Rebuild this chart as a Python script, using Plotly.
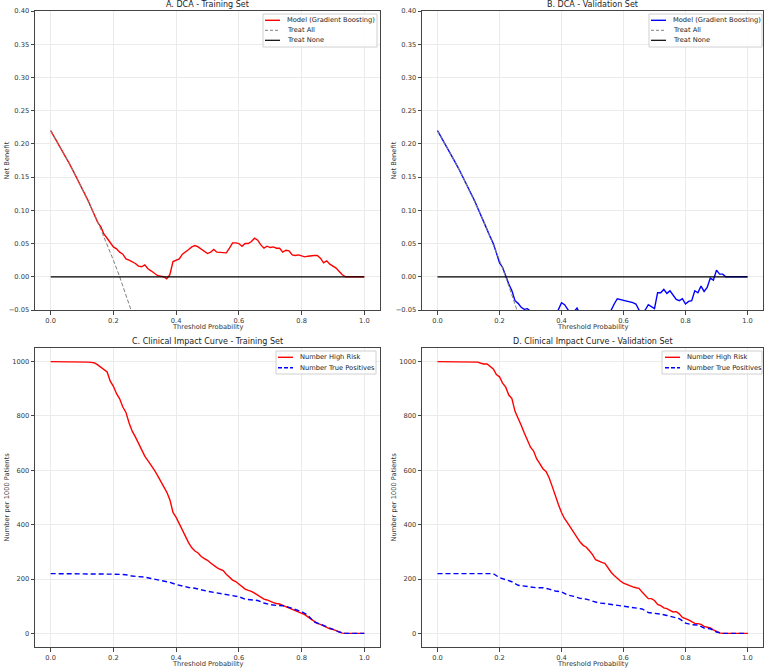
import numpy as np
import plotly.graph_objects as go

# ---------------- data ----------------
thr = np.round(np.linspace(0, 1, 101), 2)        # 0.00 .. 1.00 step 0.01
thr2 = np.round(np.linspace(0, 1, 51), 2)        # 0.00 .. 1.00 step 0.02
thr_all = np.round(np.linspace(0, 0.30, 16), 2)  # treat-all shown region

treat_all_nb = [0.220, 0.204, 0.188, 0.170, 0.152, 0.133, 0.114, 0.093,
                0.071, 0.049, 0.025, 0.000, -0.026, -0.054, -0.083, -0.114]

train_model_nb = [
    0.220, 0.212, 0.204, 0.196, 0.188, 0.179, 0.170, 0.161, 0.152, 0.143,
    0.133, 0.124, 0.114, 0.103, 0.093, 0.082, 0.075,
    0.064, 0.058, 0.051, 0.045, 0.042, 0.037, 0.034, 0.027, 0.025, 0.023,
    0.020, 0.016, 0.015, 0.018, 0.012, 0.009, 0.005, 0.002, 0.001, 0.000,
    -0.003, 0.003, 0.023, 0.025, 0.027, 0.034, 0.037, 0.041, 0.045, 0.047,
    0.045, 0.042, 0.039, 0.035, 0.037, 0.041, 0.037, 0.037, 0.036, 0.036,
    0.043, 0.051, 0.051, 0.050, 0.046, 0.050, 0.050, 0.053, 0.058, 0.055,
    0.048, 0.043, 0.046, 0.044, 0.045, 0.043, 0.043, 0.037, 0.040, 0.039,
    0.033, 0.032, 0.033, 0.031, 0.030, 0.031, 0.032, 0.032, 0.032, 0.028,
    0.021, 0.024, 0.019, 0.016, 0.013, 0.008, 0.003, 0.000,
    0.000, 0.000, 0.000, 0.000, 0.000, 0.000]

val_model_nb = [
    0.220, 0.212, 0.204, 0.196, 0.188, 0.179, 0.170, 0.161, 0.152, 0.143,
    0.133, 0.124, 0.114, 0.103, 0.093, 0.082, 0.071,
    0.060, 0.050, 0.036, 0.021, 0.014, 0.000, -0.011, -0.021, -0.036, -0.040,
    -0.046, -0.049, -0.048, -0.052, -0.060, -0.065, -0.068, -0.070, -0.072,
    -0.070, -0.066, -0.060, -0.050, -0.039, -0.042, -0.048, -0.056, -0.053,
    -0.047, -0.056, -0.062, -0.068, -0.072, -0.075, -0.076, -0.074, -0.070,
    -0.066, -0.060, -0.050, -0.041, -0.033, -0.034, -0.035, -0.036, -0.037,
    -0.039, -0.041, -0.050, -0.056, -0.050, -0.042, -0.045, -0.048, -0.024,
    -0.024, -0.019, -0.025, -0.021, -0.028, -0.034, -0.036, -0.033, -0.041,
    -0.037, -0.036, -0.021, -0.024, -0.014, -0.022, -0.016, -0.002, -0.005,
    0.010, 0.004, 0.004, 0.000,
    0.000, 0.000, 0.000, 0.000, 0.000, 0.000, 0.000]

train_high_risk = [
    1000, 1000, 1000, 1000, 1000, 1000, 1000, 1000, 1000, 1000, 1000, 1000,
    998, 997, 995, 988, 980, 972, 962, 928, 909, 882, 863, 833, 813, 774,
    744, 723, 701, 676, 652, 636, 620, 602, 582, 563, 544, 520, 492, 445,
    427, 404, 375, 355, 333, 315, 303, 296, 283, 275, 269, 259, 250, 242,
    236, 231, 218, 207, 196, 191, 182, 173, 163, 158, 155, 148, 141, 131,
    126, 123, 117, 113, 110, 108, 103, 98, 94, 87, 83, 80, 75, 69, 61, 53,
    43, 37, 33, 27, 22, 17, 15, 11, 5, 1,
    0, 0, 0, 0, 0, 0, 0]

train_true_pos = [
    220, 220, 220, 220, 220, 220, 220, 220, 220, 220,
    218, 217, 216, 211, 209, 207, 202, 198, 193, 188, 180, 174, 169, 166,
    160, 155, 151, 147, 145, 140, 135, 126, 124, 121, 112, 106, 103, 102,
    96, 88, 80, 67, 42, 34, 23, 15, 5,
    0, 0, 0, 0]

val_high_risk = [
    1000, 1000, 1000, 1000, 1000, 1000, 1000, 1000, 1000, 1000, 1000, 1000,
    1000,
    998, 994, 991, 991, 983, 973, 952, 944, 921, 906, 877, 864, 817, 793,
    766, 737, 710, 685, 671, 642, 625, 606, 596, 573, 541, 504, 474, 445,
    422, 406, 388, 369, 351, 336, 324, 317, 304, 290, 271, 265, 261, 258,
    241, 225, 213, 201, 193, 185, 180, 178, 171, 168, 166, 152, 139, 128,
    128, 121, 107, 102, 94, 91, 85, 79, 80, 72, 59, 55, 50, 43, 37, 36, 33,
    26, 22, 20, 13, 6, 2,
    0, 0, 0, 0, 0, 0, 0, 0, 0]

val_true_pos = [
    220, 220, 220, 220, 220, 220, 220, 220, 220, 220,
    205, 198, 190, 177, 173, 171, 168, 168, 163, 156, 153, 141, 136, 129,
    126, 120, 112, 110, 107, 103, 101, 97, 94, 90, 77, 75, 71, 66, 59, 54,
    38, 32, 31, 20, 17, 5,
    0, 0, 0, 0, 0]

treat_none_x = [0.0, 1.0]
treat_none_y = [0.0, 0.0]

x_ticks = [0.0, 0.2, 0.4, 0.6, 0.8, 1.0]
dca_y_ticks = [-0.05, 0.0, 0.05, 0.10, 0.15, 0.20, 0.25, 0.30, 0.35, 0.40]
cic_y_ticks = [0, 200, 400, 600, 800, 1000]

titles = ["A. DCA - Training Set", "B. DCA - Validation Set",
          "C. Clinical Impact Curve - Training Set",
          "D. Clinical Impact Curve - Validation Set"]

# ---------------- layout helpers ----------------
W, H = 767, 669
FONT = "DejaVu Sans"
SMALL = 6.7
def px(x):
    return x / W
def py(y):
    return 1 - y / H

# axes pixel boxes: (left, right, top, bottom)
boxes = [(35, 380, 11, 310), (422, 763, 11, 310),
         (35, 380, 348, 647), (422, 763, 348, 647)]

fig = go.Figure()
RED, BLUE = "#ff0000", "#0000ff"
LW = 1.4

# A
fig.add_trace(go.Scatter(x=thr, y=train_model_nb, mode="lines",
                         line=dict(color=RED, width=LW), xaxis="x", yaxis="y"))
fig.add_trace(go.Scatter(x=thr_all, y=treat_all_nb, mode="lines",
                         line=dict(color="#808080", width=1, dash="4px,2px"), xaxis="x", yaxis="y"))
fig.add_trace(go.Scatter(x=treat_none_x, y=treat_none_y, mode="lines",
                         line=dict(color="black", width=1.2), xaxis="x", yaxis="y"))
# B
fig.add_trace(go.Scatter(x=thr, y=val_model_nb, mode="lines",
                         line=dict(color=BLUE, width=LW), xaxis="x2", yaxis="y2"))
fig.add_trace(go.Scatter(x=thr_all, y=treat_all_nb, mode="lines",
                         line=dict(color="#808080", width=1, dash="4px,2px"), xaxis="x2", yaxis="y2"))
fig.add_trace(go.Scatter(x=treat_none_x, y=treat_none_y, mode="lines",
                         line=dict(color="black", width=1.2), xaxis="x2", yaxis="y2"))
# C
fig.add_trace(go.Scatter(x=thr, y=train_high_risk, mode="lines",
                         line=dict(color=RED, width=LW), xaxis="x3", yaxis="y3"))
fig.add_trace(go.Scatter(x=thr2, y=train_true_pos, mode="lines",
                         line=dict(color=BLUE, width=LW, dash="5px,3px"), xaxis="x3", yaxis="y3"))
# D
fig.add_trace(go.Scatter(x=thr, y=val_high_risk, mode="lines",
                         line=dict(color=RED, width=LW), xaxis="x4", yaxis="y4"))
fig.add_trace(go.Scatter(x=thr2, y=val_true_pos, mode="lines",
                         line=dict(color=BLUE, width=LW, dash="5px,3px"), xaxis="x4", yaxis="y4"))

axis_common = dict(showline=True, mirror=True, linecolor="#444444", linewidth=1,
                   ticks="outside", ticklen=3.5, tickwidth=1, tickcolor="#444444",
                   showgrid=True, gridcolor="#ebebeb", gridwidth=1, zeroline=False,
                   tickfont=dict(family=FONT, size=SMALL, color="#333333"),
                   automargin=False, fixedrange=True)

layout = dict(width=W, height=H, margin=dict(l=0, r=0, t=0, b=0),
              paper_bgcolor="white", plot_bgcolor="white", showlegend=False,
              font=dict(family=FONT, size=SMALL, color="#333333"))

for i, (l, r, t, b) in enumerate(boxes):
    sx = "" if i == 0 else str(i + 1)
    dca = i < 2
    layout["xaxis" + sx] = dict(axis_common, domain=[px(l), px(r)], range=[-0.05, 1.05],
                                tickvals=x_ticks, tickformat=".1f",
                                anchor="y" + sx)
    layout["yaxis" + sx] = dict(axis_common, domain=[py(b), py(t)],
                                range=[-0.05, 0.40] if dca else [-50, 1050],
                                tickvals=dca_y_ticks if dca else cic_y_ticks,
                                tickformat=".2f" if dca else "d",
                                anchor="x" + sx)
fig.update_layout(**layout)

annotations = []
shapes = []
for i, (l, r, t, b) in enumerate(boxes):
    cx = (l + r) / 2
    annotations.append(dict(text=titles[i], x=px(cx), y=py(t - 6.5), xref="paper", yref="paper",
                            xanchor="center", yanchor="middle", showarrow=False,
                            font=dict(family=FONT, size=8, color="#222222")))
    annotations.append(dict(text="Threshold Probability", x=px(cx), y=py(b + 17), xref="paper",
                            yref="paper", xanchor="center", yanchor="middle", showarrow=False,
                            font=dict(family=FONT, size=SMALL, color="#333333")))
    ytitle = "Net Benefit" if i < 2 else "Number per 1000 Patients"
    annotations.append(dict(text=ytitle, x=px(l - 29), y=py((t + b) / 2), xref="paper",
                            yref="paper", xanchor="center", yanchor="middle", showarrow=False,
                            textangle=-90, font=dict(family=FONT, size=SMALL, color="#333333")))

# manual legends (matplotlib-like compact boxes)
legends = [
    dict(box=(263, 377, 14, 47), sample=(265, 280), text_x=285, rows=[20.3, 30.3, 40.3],
         items=[("Model (Gradient Boosting)", RED, "solid", LW),
                ("Treat All", "#808080", "3px,2px", 1),
                ("Treat None", "black", "solid", 1.2)]),
    dict(box=(649, 762, 14, 47), sample=(651, 666), text_x=671, rows=[20.3, 30.3, 40.3],
         items=[("Model (Gradient Boosting)", BLUE, "solid", LW),
                ("Treat All", "#808080", "3px,2px", 1),
                ("Treat None", "black", "solid", 1.2)]),
    dict(box=(276, 376, 351, 374), sample=(278, 293), text_x=298, rows=[357.3, 367.7],
         items=[("Number High Risk", RED, "solid", LW),
                ("Number True Positives", BLUE, "4px,2px", LW)]),
    dict(box=(662, 762, 351, 374), sample=(665, 680), text_x=685, rows=[357.3, 367.7],
         items=[("Number High Risk", RED, "solid", LW),
                ("Number True Positives", BLUE, "4px,2px", LW)]),
]
for lg in legends:
    x0, x1, y0, y1 = lg["box"]
    shapes.append(dict(type="rect", xref="paper", yref="paper", x0=px(x0), x1=px(x1),
                       y0=py(y1), y1=py(y0), line=dict(color="#d0d0d0", width=1),
                       fillcolor="rgba(255,255,255,0.85)", layer="above"))
    for (label, color, dash, w), ry in zip(lg["items"], lg["rows"]):
        shapes.append(dict(type="line", xref="paper", yref="paper",
                           x0=px(lg["sample"][0]), x1=px(lg["sample"][1]), y0=py(ry), y1=py(ry),
                           line=dict(color=color, width=w, dash=dash), layer="above"))
        annotations.append(dict(text=label, x=px(lg["text_x"]), y=py(ry), xref="paper",
                                yref="paper", xanchor="left", yanchor="middle", showarrow=False,
                                font=dict(family=FONT, size=SMALL, color="#222222")))

fig.update_layout(annotations=annotations, shapes=shapes)
fig.write_html("out.html")
